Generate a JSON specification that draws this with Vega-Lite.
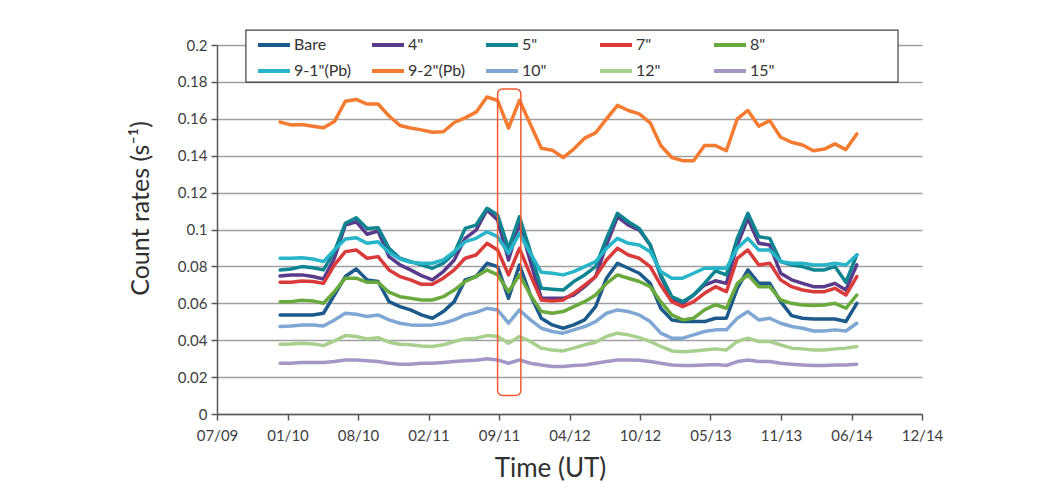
{
"$schema":"https://vega.github.io/schema/vega-lite/v6.json",
"width":705,"height":369,
"autosize":{"type":"none"},
"padding":{"left":217,"top":45,"right":130,"bottom":84},
"background":"white",
"config":{"view":{"stroke":null},"font":"Lato"},
"encoding":{
 "x":{"field":"t","type":"temporal",
  "scale":{"type":"utc","domain":[{"year":2009,"month":7,"date":6,"utc":true},{"year":2014,"month":12,"date":27,"utc":true}]},
  "axis":{"values":[{"year":2009,"month":7,"date":6,"utc":true},{"year":2010,"month":1,"date":22,"utc":true},{"year":2010,"month":8,"date":10,"utc":true},{"year":2011,"month":2,"date":26,"utc":true},{"year":2011,"month":9,"date":14,"utc":true},{"year":2012,"month":4,"date":1,"utc":true},{"year":2012,"month":10,"date":18,"utc":true},{"year":2013,"month":5,"date":6,"utc":true},{"year":2013,"month":11,"date":22,"utc":true},{"year":2014,"month":6,"date":10,"utc":true},{"year":2014,"month":12,"date":27,"utc":true}],
   "labelExpr":"utcFormat(datum.value, '%m/%y')","grid":false,"domainColor":"#595959","domainWidth":1.5,"tickColor":"#595959","tickWidth":1.5,"tickSize":6,
   "labelFont":"Lato","labelFontSize":15,"labelColor":"#404040","labelPadding":8,"labelOverlap":false,"labelFlush":false,
   "title":"Time (UT)","titleFont":"Lato","titleFontSize":26,"titleFontWeight":"normal","titleColor":"#303030","titleX":333,"titleY":54,"titleAlign":"center","titleBaseline":"middle"}},
 "y":{"field":"v","type":"quantitative","scale":{"domain":[0,0.2],"nice":false,"zero":false},
  "axis":{"values":[0,0.02,0.04,0.06,0.08,0.1,0.12,0.14,0.16,0.18,0.2],"format":".2~f","grid":true,"gridColor":"#a0a0a0","gridWidth":1.5,
   "domainColor":"#595959","domainWidth":1.5,"tickColor":"#595959","tickWidth":1.5,"tickSize":6,
   "labelFont":"Lato","labelFontSize":15,"labelColor":"#404040","labelPadding":4,
   "title":"Count rates (s⁻¹)","titleFont":"Lato","titleFontSize":25,"titleFontWeight":"normal","titleColor":"#303030","titleX":-77,"titleY":163,"titleAngle":-90,"titleAlign":"center","titleBaseline":"middle"}}
},
"layer":[
{"data":{"values":[{"t":"2009-09-26","t2":"2014-10-20","v":0.1799,"v2":0.2081}]},
 "mark":{"type":"rect","fill":"white","stroke":"#404040","strokeWidth":1.2},
 "encoding":{"x2":{"field":"t2"},"y2":{"field":"v2"}}},
{"data":{"values":[
{"t":"2010-01-01","s":"Bare","v":0.0537},{"t":"2010-02-01","s":"Bare","v":0.0537},{"t":"2010-03-04","s":"Bare","v":0.0537},{"t":"2010-04-04","s":"Bare","v":0.0537},{"t":"2010-05-04","s":"Bare","v":0.0546},{"t":"2010-06-04","s":"Bare","v":0.0645},{"t":"2010-07-05","s":"Bare","v":0.0745},{"t":"2010-08-05","s":"Bare","v":0.0786},{"t":"2010-09-05","s":"Bare","v":0.0727},{"t":"2010-10-06","s":"Bare","v":0.0718},{"t":"2010-11-06","s":"Bare","v":0.0609},{"t":"2010-12-07","s":"Bare","v":0.0582},
{"t":"2011-01-06","s":"Bare","v":0.0564},{"t":"2011-02-06","s":"Bare","v":0.0537},{"t":"2011-03-09","s":"Bare","v":0.0519},{"t":"2011-04-09","s":"Bare","v":0.0555},{"t":"2011-05-10","s":"Bare","v":0.0609},{"t":"2011-06-10","s":"Bare","v":0.0727},{"t":"2011-07-11","s":"Bare","v":0.0745},{"t":"2011-08-11","s":"Bare","v":0.0817},{"t":"2011-09-10","s":"Bare","v":0.0799},{"t":"2011-10-11","s":"Bare","v":0.0627},{"t":"2011-11-11","s":"Bare","v":0.0808},{"t":"2011-12-12","s":"Bare","v":0.0645},
{"t":"2012-01-12","s":"Bare","v":0.0519},{"t":"2012-02-12","s":"Bare","v":0.0483},{"t":"2012-03-14","s":"Bare","v":0.0465},{"t":"2012-04-13","s":"Bare","v":0.0483},{"t":"2012-05-14","s":"Bare","v":0.0510},{"t":"2012-06-14","s":"Bare","v":0.0582},{"t":"2012-07-15","s":"Bare","v":0.0736},{"t":"2012-08-15","s":"Bare","v":0.0817},{"t":"2012-09-15","s":"Bare","v":0.0790},{"t":"2012-10-16","s":"Bare","v":0.0763},{"t":"2012-11-16","s":"Bare","v":0.0708},{"t":"2012-12-16","s":"Bare","v":0.0573},
{"t":"2013-01-16","s":"Bare","v":0.0510},{"t":"2013-02-16","s":"Bare","v":0.0501},{"t":"2013-03-19","s":"Bare","v":0.0501},{"t":"2013-04-19","s":"Bare","v":0.0501},{"t":"2013-05-20","s":"Bare","v":0.0519},{"t":"2013-06-20","s":"Bare","v":0.0519},{"t":"2013-07-21","s":"Bare","v":0.0681},{"t":"2013-08-20","s":"Bare","v":0.0781},{"t":"2013-09-20","s":"Bare","v":0.0708},{"t":"2013-10-21","s":"Bare","v":0.0708},{"t":"2013-11-21","s":"Bare","v":0.0609},{"t":"2013-12-22","s":"Bare","v":0.0533},
{"t":"2014-01-22","s":"Bare","v":0.0519},{"t":"2014-02-22","s":"Bare","v":0.0515},{"t":"2014-03-25","s":"Bare","v":0.0515},{"t":"2014-04-24","s":"Bare","v":0.0515},{"t":"2014-05-25","s":"Bare","v":0.0501},{"t":"2014-06-25","s":"Bare","v":0.0600},

{"t":"2010-01-01","s":"4\"","v":0.0748},{"t":"2010-02-01","s":"4\"","v":0.0754},{"t":"2010-03-04","s":"4\"","v":0.0754},{"t":"2010-04-04","s":"4\"","v":0.0745},{"t":"2010-05-04","s":"4\"","v":0.0732},{"t":"2010-06-04","s":"4\"","v":0.0844},{"t":"2010-07-05","s":"4\"","v":0.1024},{"t":"2010-08-05","s":"4\"","v":0.1042},{"t":"2010-09-05","s":"4\"","v":0.0974},{"t":"2010-10-06","s":"4\"","v":0.0992},{"t":"2010-11-06","s":"4\"","v":0.0853},{"t":"2010-12-07","s":"4\"","v":0.0808},
{"t":"2011-01-06","s":"4\"","v":0.0781},{"t":"2011-02-06","s":"4\"","v":0.0750},{"t":"2011-03-09","s":"4\"","v":0.0727},{"t":"2011-04-09","s":"4\"","v":0.0772},{"t":"2011-05-10","s":"4\"","v":0.0835},{"t":"2011-06-10","s":"4\"","v":0.0952},{"t":"2011-07-11","s":"4\"","v":0.0997},{"t":"2011-08-11","s":"4\"","v":0.1106},{"t":"2011-09-10","s":"4\"","v":0.1051},{"t":"2011-10-11","s":"4\"","v":0.0835},{"t":"2011-11-11","s":"4\"","v":0.1033},{"t":"2011-12-12","s":"4\"","v":0.0826},
{"t":"2012-01-12","s":"4\"","v":0.0627},{"t":"2012-02-12","s":"4\"","v":0.0627},{"t":"2012-03-14","s":"4\"","v":0.0627},{"t":"2012-04-13","s":"4\"","v":0.0645},{"t":"2012-05-14","s":"4\"","v":0.0690},{"t":"2012-06-14","s":"4\"","v":0.0745},{"t":"2012-07-15","s":"4\"","v":0.0916},{"t":"2012-08-15","s":"4\"","v":0.1069},{"t":"2012-09-15","s":"4\"","v":0.1024},{"t":"2012-10-16","s":"4\"","v":0.0997},{"t":"2012-11-16","s":"4\"","v":0.0916},{"t":"2012-12-16","s":"4\"","v":0.0745},
{"t":"2013-01-16","s":"4\"","v":0.0627},{"t":"2013-02-16","s":"4\"","v":0.0600},{"t":"2013-03-19","s":"4\"","v":0.0645},{"t":"2013-04-19","s":"4\"","v":0.0699},{"t":"2013-05-20","s":"4\"","v":0.0722},{"t":"2013-06-20","s":"4\"","v":0.0708},{"t":"2013-07-21","s":"4\"","v":0.0916},{"t":"2013-08-20","s":"4\"","v":0.1060},{"t":"2013-09-20","s":"4\"","v":0.0925},{"t":"2013-10-21","s":"4\"","v":0.0916},{"t":"2013-11-21","s":"4\"","v":0.0763},{"t":"2013-12-22","s":"4\"","v":0.0727},
{"t":"2014-01-22","s":"4\"","v":0.0708},{"t":"2014-02-22","s":"4\"","v":0.0690},{"t":"2014-03-25","s":"4\"","v":0.0690},{"t":"2014-04-24","s":"4\"","v":0.0708},{"t":"2014-05-25","s":"4\"","v":0.0672},{"t":"2014-06-25","s":"4\"","v":0.0808},

{"t":"2010-01-01","s":"5\"","v":0.0781},{"t":"2010-02-01","s":"5\"","v":0.0786},{"t":"2010-03-04","s":"5\"","v":0.0799},{"t":"2010-04-04","s":"5\"","v":0.0793},{"t":"2010-05-04","s":"5\"","v":0.0781},{"t":"2010-06-04","s":"5\"","v":0.0880},{"t":"2010-07-05","s":"5\"","v":0.1033},{"t":"2010-08-05","s":"5\"","v":0.1064},{"t":"2010-09-05","s":"5\"","v":0.1006},{"t":"2010-10-06","s":"5\"","v":0.1010},{"t":"2010-11-06","s":"5\"","v":0.0898},{"t":"2010-12-07","s":"5\"","v":0.0844},
{"t":"2011-01-06","s":"5\"","v":0.0826},{"t":"2011-02-06","s":"5\"","v":0.0808},{"t":"2011-03-09","s":"5\"","v":0.0790},{"t":"2011-04-09","s":"5\"","v":0.0817},{"t":"2011-05-10","s":"5\"","v":0.0871},{"t":"2011-06-10","s":"5\"","v":0.1006},{"t":"2011-07-11","s":"5\"","v":0.1024},{"t":"2011-08-11","s":"5\"","v":0.1115},{"t":"2011-09-10","s":"5\"","v":0.1079},{"t":"2011-10-11","s":"5\"","v":0.0898},{"t":"2011-11-11","s":"5\"","v":0.1069},{"t":"2011-12-12","s":"5\"","v":0.0880},
{"t":"2012-01-12","s":"5\"","v":0.0681},{"t":"2012-02-12","s":"5\"","v":0.0676},{"t":"2012-03-14","s":"5\"","v":0.0672},{"t":"2012-04-13","s":"5\"","v":0.0718},{"t":"2012-05-14","s":"5\"","v":0.0754},{"t":"2012-06-14","s":"5\"","v":0.0799},{"t":"2012-07-15","s":"5\"","v":0.0952},{"t":"2012-08-15","s":"5\"","v":0.1088},{"t":"2012-09-15","s":"5\"","v":0.1042},{"t":"2012-10-16","s":"5\"","v":0.1006},{"t":"2012-11-16","s":"5\"","v":0.0916},{"t":"2012-12-16","s":"5\"","v":0.0754},
{"t":"2013-01-16","s":"5\"","v":0.0636},{"t":"2013-02-16","s":"5\"","v":0.0609},{"t":"2013-03-19","s":"5\"","v":0.0645},{"t":"2013-04-19","s":"5\"","v":0.0708},{"t":"2013-05-20","s":"5\"","v":0.0776},{"t":"2013-06-20","s":"5\"","v":0.0754},{"t":"2013-07-21","s":"5\"","v":0.0952},{"t":"2013-08-20","s":"5\"","v":0.1088},{"t":"2013-09-20","s":"5\"","v":0.0961},{"t":"2013-10-21","s":"5\"","v":0.0952},{"t":"2013-11-21","s":"5\"","v":0.0826},{"t":"2013-12-22","s":"5\"","v":0.0808},
{"t":"2014-01-22","s":"5\"","v":0.0799},{"t":"2014-02-22","s":"5\"","v":0.0781},{"t":"2014-03-25","s":"5\"","v":0.0781},{"t":"2014-04-24","s":"5\"","v":0.0799},{"t":"2014-05-25","s":"5\"","v":0.0714},{"t":"2014-06-25","s":"5\"","v":0.0862},

{"t":"2010-01-01","s":"7\"","v":0.0714},{"t":"2010-02-01","s":"7\"","v":0.0714},{"t":"2010-03-04","s":"7\"","v":0.0721},{"t":"2010-04-04","s":"7\"","v":0.0718},{"t":"2010-05-04","s":"7\"","v":0.0708},{"t":"2010-06-04","s":"7\"","v":0.0808},{"t":"2010-07-05","s":"7\"","v":0.0880},{"t":"2010-08-05","s":"7\"","v":0.0889},{"t":"2010-09-05","s":"7\"","v":0.0844},{"t":"2010-10-06","s":"7\"","v":0.0853},{"t":"2010-11-06","s":"7\"","v":0.0781},{"t":"2010-12-07","s":"7\"","v":0.0745},
{"t":"2011-01-06","s":"7\"","v":0.0727},{"t":"2011-02-06","s":"7\"","v":0.0703},{"t":"2011-03-09","s":"7\"","v":0.0703},{"t":"2011-04-09","s":"7\"","v":0.0736},{"t":"2011-05-10","s":"7\"","v":0.0781},{"t":"2011-06-10","s":"7\"","v":0.0844},{"t":"2011-07-11","s":"7\"","v":0.0862},{"t":"2011-08-11","s":"7\"","v":0.0925},{"t":"2011-09-10","s":"7\"","v":0.0889},{"t":"2011-10-11","s":"7\"","v":0.0754},{"t":"2011-11-11","s":"7\"","v":0.0898},{"t":"2011-12-12","s":"7\"","v":0.0754},
{"t":"2012-01-12","s":"7\"","v":0.0618},{"t":"2012-02-12","s":"7\"","v":0.0613},{"t":"2012-03-14","s":"7\"","v":0.0618},{"t":"2012-04-13","s":"7\"","v":0.0654},{"t":"2012-05-14","s":"7\"","v":0.0699},{"t":"2012-06-14","s":"7\"","v":0.0745},{"t":"2012-07-15","s":"7\"","v":0.0835},{"t":"2012-08-15","s":"7\"","v":0.0898},{"t":"2012-09-15","s":"7\"","v":0.0862},{"t":"2012-10-16","s":"7\"","v":0.0844},{"t":"2012-11-16","s":"7\"","v":0.0799},{"t":"2012-12-16","s":"7\"","v":0.0699},
{"t":"2013-01-16","s":"7\"","v":0.0609},{"t":"2013-02-16","s":"7\"","v":0.0582},{"t":"2013-03-19","s":"7\"","v":0.0609},{"t":"2013-04-19","s":"7\"","v":0.0654},{"t":"2013-05-20","s":"7\"","v":0.0690},{"t":"2013-06-20","s":"7\"","v":0.0663},{"t":"2013-07-21","s":"7\"","v":0.0844},{"t":"2013-08-20","s":"7\"","v":0.0889},{"t":"2013-09-20","s":"7\"","v":0.0808},{"t":"2013-10-21","s":"7\"","v":0.0817},{"t":"2013-11-21","s":"7\"","v":0.0727},{"t":"2013-12-22","s":"7\"","v":0.0690},
{"t":"2014-01-22","s":"7\"","v":0.0672},{"t":"2014-02-22","s":"7\"","v":0.0663},{"t":"2014-03-25","s":"7\"","v":0.0663},{"t":"2014-04-24","s":"7\"","v":0.0681},{"t":"2014-05-25","s":"7\"","v":0.0645},{"t":"2014-06-25","s":"7\"","v":0.0745},

{"t":"2010-01-01","s":"8\"","v":0.0609},{"t":"2010-02-01","s":"8\"","v":0.0609},{"t":"2010-03-04","s":"8\"","v":0.0617},{"t":"2010-04-04","s":"8\"","v":0.0613},{"t":"2010-05-04","s":"8\"","v":0.0600},{"t":"2010-06-04","s":"8\"","v":0.0663},{"t":"2010-07-05","s":"8\"","v":0.0736},{"t":"2010-08-05","s":"8\"","v":0.0736},{"t":"2010-09-05","s":"8\"","v":0.0714},{"t":"2010-10-06","s":"8\"","v":0.0714},{"t":"2010-11-06","s":"8\"","v":0.0660},{"t":"2010-12-07","s":"8\"","v":0.0636},
{"t":"2011-01-06","s":"8\"","v":0.0627},{"t":"2011-02-06","s":"8\"","v":0.0618},{"t":"2011-03-09","s":"8\"","v":0.0618},{"t":"2011-04-09","s":"8\"","v":0.0636},{"t":"2011-05-10","s":"8\"","v":0.0672},{"t":"2011-06-10","s":"8\"","v":0.0718},{"t":"2011-07-11","s":"8\"","v":0.0745},{"t":"2011-08-11","s":"8\"","v":0.0781},{"t":"2011-09-10","s":"8\"","v":0.0754},{"t":"2011-10-11","s":"8\"","v":0.0663},{"t":"2011-11-11","s":"8\"","v":0.0754},{"t":"2011-12-12","s":"8\"","v":0.0645},
{"t":"2012-01-12","s":"8\"","v":0.0555},{"t":"2012-02-12","s":"8\"","v":0.0546},{"t":"2012-03-14","s":"8\"","v":0.0555},{"t":"2012-04-13","s":"8\"","v":0.0582},{"t":"2012-05-14","s":"8\"","v":0.0609},{"t":"2012-06-14","s":"8\"","v":0.0645},{"t":"2012-07-15","s":"8\"","v":0.0708},{"t":"2012-08-15","s":"8\"","v":0.0754},{"t":"2012-09-15","s":"8\"","v":0.0736},{"t":"2012-10-16","s":"8\"","v":0.0718},{"t":"2012-11-16","s":"8\"","v":0.0690},{"t":"2012-12-16","s":"8\"","v":0.0609},
{"t":"2013-01-16","s":"8\"","v":0.0537},{"t":"2013-02-16","s":"8\"","v":0.0510},{"t":"2013-03-19","s":"8\"","v":0.0519},{"t":"2013-04-19","s":"8\"","v":0.0564},{"t":"2013-05-20","s":"8\"","v":0.0593},{"t":"2013-06-20","s":"8\"","v":0.0573},{"t":"2013-07-21","s":"8\"","v":0.0708},{"t":"2013-08-20","s":"8\"","v":0.0754},{"t":"2013-09-20","s":"8\"","v":0.0690},{"t":"2013-10-21","s":"8\"","v":0.0690},{"t":"2013-11-21","s":"8\"","v":0.0618},{"t":"2013-12-22","s":"8\"","v":0.0600},
{"t":"2014-01-22","s":"8\"","v":0.0591},{"t":"2014-02-22","s":"8\"","v":0.0588},{"t":"2014-03-25","s":"8\"","v":0.0591},{"t":"2014-04-24","s":"8\"","v":0.0600},{"t":"2014-05-25","s":"8\"","v":0.0573},{"t":"2014-06-25","s":"8\"","v":0.0645},

{"t":"2010-01-01","s":"9-1\"(Pb)","v":0.0844},{"t":"2010-02-01","s":"9-1\"(Pb)","v":0.0844},{"t":"2010-03-04","s":"9-1\"(Pb)","v":0.0847},{"t":"2010-04-04","s":"9-1\"(Pb)","v":0.0840},{"t":"2010-05-04","s":"9-1\"(Pb)","v":0.0826},{"t":"2010-06-04","s":"9-1\"(Pb)","v":0.0889},{"t":"2010-07-05","s":"9-1\"(Pb)","v":0.0948},{"t":"2010-08-05","s":"9-1\"(Pb)","v":0.0955},{"t":"2010-09-05","s":"9-1\"(Pb)","v":0.0925},{"t":"2010-10-06","s":"9-1\"(Pb)","v":0.0934},{"t":"2010-11-06","s":"9-1\"(Pb)","v":0.0876},{"t":"2010-12-07","s":"9-1\"(Pb)","v":0.0840},
{"t":"2011-01-06","s":"9-1\"(Pb)","v":0.0822},{"t":"2011-02-06","s":"9-1\"(Pb)","v":0.0817},{"t":"2011-03-09","s":"9-1\"(Pb)","v":0.0817},{"t":"2011-04-09","s":"9-1\"(Pb)","v":0.0835},{"t":"2011-05-10","s":"9-1\"(Pb)","v":0.0880},{"t":"2011-06-10","s":"9-1\"(Pb)","v":0.0934},{"t":"2011-07-11","s":"9-1\"(Pb)","v":0.0952},{"t":"2011-08-11","s":"9-1\"(Pb)","v":0.0988},{"t":"2011-09-10","s":"9-1\"(Pb)","v":0.0961},{"t":"2011-10-11","s":"9-1\"(Pb)","v":0.0871},{"t":"2011-11-11","s":"9-1\"(Pb)","v":0.0979},{"t":"2011-12-12","s":"9-1\"(Pb)","v":0.0871},
{"t":"2012-01-12","s":"9-1\"(Pb)","v":0.0768},{"t":"2012-02-12","s":"9-1\"(Pb)","v":0.0763},{"t":"2012-03-14","s":"9-1\"(Pb)","v":0.0754},{"t":"2012-04-13","s":"9-1\"(Pb)","v":0.0772},{"t":"2012-05-14","s":"9-1\"(Pb)","v":0.0799},{"t":"2012-06-14","s":"9-1\"(Pb)","v":0.0826},{"t":"2012-07-15","s":"9-1\"(Pb)","v":0.0898},{"t":"2012-08-15","s":"9-1\"(Pb)","v":0.0952},{"t":"2012-09-15","s":"9-1\"(Pb)","v":0.0925},{"t":"2012-10-16","s":"9-1\"(Pb)","v":0.0916},{"t":"2012-11-16","s":"9-1\"(Pb)","v":0.0880},{"t":"2012-12-16","s":"9-1\"(Pb)","v":0.0772},
{"t":"2013-01-16","s":"9-1\"(Pb)","v":0.0736},{"t":"2013-02-16","s":"9-1\"(Pb)","v":0.0736},{"t":"2013-03-19","s":"9-1\"(Pb)","v":0.0763},{"t":"2013-04-19","s":"9-1\"(Pb)","v":0.0790},{"t":"2013-05-20","s":"9-1\"(Pb)","v":0.0792},{"t":"2013-06-20","s":"9-1\"(Pb)","v":0.0790},{"t":"2013-07-21","s":"9-1\"(Pb)","v":0.0898},{"t":"2013-08-20","s":"9-1\"(Pb)","v":0.0952},{"t":"2013-09-20","s":"9-1\"(Pb)","v":0.0889},{"t":"2013-10-21","s":"9-1\"(Pb)","v":0.0889},{"t":"2013-11-21","s":"9-1\"(Pb)","v":0.0826},{"t":"2013-12-22","s":"9-1\"(Pb)","v":0.0817},
{"t":"2014-01-22","s":"9-1\"(Pb)","v":0.0817},{"t":"2014-02-22","s":"9-1\"(Pb)","v":0.0808},{"t":"2014-03-25","s":"9-1\"(Pb)","v":0.0808},{"t":"2014-04-24","s":"9-1\"(Pb)","v":0.0817},{"t":"2014-05-25","s":"9-1\"(Pb)","v":0.0808},{"t":"2014-06-25","s":"9-1\"(Pb)","v":0.0862},

{"t":"2010-01-01","s":"9-2\"(Pb)","v":0.1582},{"t":"2010-02-01","s":"9-2\"(Pb)","v":0.1567},{"t":"2010-03-04","s":"9-2\"(Pb)","v":0.1569},{"t":"2010-04-04","s":"9-2\"(Pb)","v":0.1560},{"t":"2010-05-04","s":"9-2\"(Pb)","v":0.1551},{"t":"2010-06-04","s":"9-2\"(Pb)","v":0.1585},{"t":"2010-07-05","s":"9-2\"(Pb)","v":0.1695},{"t":"2010-08-05","s":"9-2\"(Pb)","v":0.1705},{"t":"2010-09-05","s":"9-2\"(Pb)","v":0.1680},{"t":"2010-10-06","s":"9-2\"(Pb)","v":0.1680},{"t":"2010-11-06","s":"9-2\"(Pb)","v":0.1615},{"t":"2010-12-07","s":"9-2\"(Pb)","v":0.1564},
{"t":"2011-01-06","s":"9-2\"(Pb)","v":0.1550},{"t":"2011-02-06","s":"9-2\"(Pb)","v":0.1540},{"t":"2011-03-09","s":"9-2\"(Pb)","v":0.1527},{"t":"2011-04-09","s":"9-2\"(Pb)","v":0.1530},{"t":"2011-05-10","s":"9-2\"(Pb)","v":0.1580},{"t":"2011-06-10","s":"9-2\"(Pb)","v":0.1605},{"t":"2011-07-11","s":"9-2\"(Pb)","v":0.1636},{"t":"2011-08-11","s":"9-2\"(Pb)","v":0.1718},{"t":"2011-09-10","s":"9-2\"(Pb)","v":0.1700},{"t":"2011-10-11","s":"9-2\"(Pb)","v":0.1550},{"t":"2011-11-11","s":"9-2\"(Pb)","v":0.1700},{"t":"2011-12-12","s":"9-2\"(Pb)","v":0.1570},
{"t":"2012-01-12","s":"9-2\"(Pb)","v":0.1440},{"t":"2012-02-12","s":"9-2\"(Pb)","v":0.1430},{"t":"2012-03-14","s":"9-2\"(Pb)","v":0.1390},{"t":"2012-04-13","s":"9-2\"(Pb)","v":0.1436},{"t":"2012-05-14","s":"9-2\"(Pb)","v":0.1495},{"t":"2012-06-14","s":"9-2\"(Pb)","v":0.1524},{"t":"2012-07-15","s":"9-2\"(Pb)","v":0.1600},{"t":"2012-08-15","s":"9-2\"(Pb)","v":0.1673},{"t":"2012-09-15","s":"9-2\"(Pb)","v":0.1645},{"t":"2012-10-16","s":"9-2\"(Pb)","v":0.1627},{"t":"2012-11-16","s":"9-2\"(Pb)","v":0.1578},{"t":"2012-12-16","s":"9-2\"(Pb)","v":0.1455},
{"t":"2013-01-16","s":"9-2\"(Pb)","v":0.1390},{"t":"2013-02-16","s":"9-2\"(Pb)","v":0.1373},{"t":"2013-03-19","s":"9-2\"(Pb)","v":0.1373},{"t":"2013-04-19","s":"9-2\"(Pb)","v":0.1455},{"t":"2013-05-20","s":"9-2\"(Pb)","v":0.1455},{"t":"2013-06-20","s":"9-2\"(Pb)","v":0.1427},{"t":"2013-07-21","s":"9-2\"(Pb)","v":0.1600},{"t":"2013-08-20","s":"9-2\"(Pb)","v":0.1645},{"t":"2013-09-20","s":"9-2\"(Pb)","v":0.1560},{"t":"2013-10-21","s":"9-2\"(Pb)","v":0.1590},{"t":"2013-11-21","s":"9-2\"(Pb)","v":0.1500},{"t":"2013-12-22","s":"9-2\"(Pb)","v":0.1473},
{"t":"2014-01-22","s":"9-2\"(Pb)","v":0.1458},{"t":"2014-02-22","s":"9-2\"(Pb)","v":0.1427},{"t":"2014-03-25","s":"9-2\"(Pb)","v":0.1436},{"t":"2014-04-24","s":"9-2\"(Pb)","v":0.1464},{"t":"2014-05-25","s":"9-2\"(Pb)","v":0.1433},{"t":"2014-06-25","s":"9-2\"(Pb)","v":0.1518},

{"t":"2010-01-01","s":"10\"","v":0.0474},{"t":"2010-02-01","s":"10\"","v":0.0477},{"t":"2010-03-04","s":"10\"","v":0.0483},{"t":"2010-04-04","s":"10\"","v":0.0483},{"t":"2010-05-04","s":"10\"","v":0.0477},{"t":"2010-06-04","s":"10\"","v":0.0510},{"t":"2010-07-05","s":"10\"","v":0.0546},{"t":"2010-08-05","s":"10\"","v":0.0541},{"t":"2010-09-05","s":"10\"","v":0.0528},{"t":"2010-10-06","s":"10\"","v":0.0537},{"t":"2010-11-06","s":"10\"","v":0.0510},{"t":"2010-12-07","s":"10\"","v":0.0492},
{"t":"2011-01-06","s":"10\"","v":0.0483},{"t":"2011-02-06","s":"10\"","v":0.0481},{"t":"2011-03-09","s":"10\"","v":0.0483},{"t":"2011-04-09","s":"10\"","v":0.0492},{"t":"2011-05-10","s":"10\"","v":0.0510},{"t":"2011-06-10","s":"10\"","v":0.0537},{"t":"2011-07-11","s":"10\"","v":0.0551},{"t":"2011-08-11","s":"10\"","v":0.0573},{"t":"2011-09-10","s":"10\"","v":0.0564},{"t":"2011-10-11","s":"10\"","v":0.0492},{"t":"2011-11-11","s":"10\"","v":0.0564},{"t":"2011-12-12","s":"10\"","v":0.0510},
{"t":"2012-01-12","s":"10\"","v":0.0465},{"t":"2012-02-12","s":"10\"","v":0.0447},{"t":"2012-03-14","s":"10\"","v":0.0438},{"t":"2012-04-13","s":"10\"","v":0.0456},{"t":"2012-05-14","s":"10\"","v":0.0474},{"t":"2012-06-14","s":"10\"","v":0.0501},{"t":"2012-07-15","s":"10\"","v":0.0546},{"t":"2012-08-15","s":"10\"","v":0.0564},{"t":"2012-09-15","s":"10\"","v":0.0555},{"t":"2012-10-16","s":"10\"","v":0.0537},{"t":"2012-11-16","s":"10\"","v":0.0501},{"t":"2012-12-16","s":"10\"","v":0.0438},
{"t":"2013-01-16","s":"10\"","v":0.0411},{"t":"2013-02-16","s":"10\"","v":0.0411},{"t":"2013-03-19","s":"10\"","v":0.0429},{"t":"2013-04-19","s":"10\"","v":0.0447},{"t":"2013-05-20","s":"10\"","v":0.0456},{"t":"2013-06-20","s":"10\"","v":0.0456},{"t":"2013-07-21","s":"10\"","v":0.0519},{"t":"2013-08-20","s":"10\"","v":0.0555},{"t":"2013-09-20","s":"10\"","v":0.0510},{"t":"2013-10-21","s":"10\"","v":0.0519},{"t":"2013-11-21","s":"10\"","v":0.0492},{"t":"2013-12-22","s":"10\"","v":0.0474},
{"t":"2014-01-22","s":"10\"","v":0.0465},{"t":"2014-02-22","s":"10\"","v":0.0450},{"t":"2014-03-25","s":"10\"","v":0.0450},{"t":"2014-04-24","s":"10\"","v":0.0456},{"t":"2014-05-25","s":"10\"","v":0.0450},{"t":"2014-06-25","s":"10\"","v":0.0492},

{"t":"2010-01-01","s":"12\"","v":0.0378},{"t":"2010-02-01","s":"12\"","v":0.0380},{"t":"2010-03-04","s":"12\"","v":0.0384},{"t":"2010-04-04","s":"12\"","v":0.0380},{"t":"2010-05-04","s":"12\"","v":0.0371},{"t":"2010-06-04","s":"12\"","v":0.0396},{"t":"2010-07-05","s":"12\"","v":0.0425},{"t":"2010-08-05","s":"12\"","v":0.0420},{"t":"2010-09-05","s":"12\"","v":0.0407},{"t":"2010-10-06","s":"12\"","v":0.0414},{"t":"2010-11-06","s":"12\"","v":0.0389},{"t":"2010-12-07","s":"12\"","v":0.0378},
{"t":"2011-01-06","s":"12\"","v":0.0375},{"t":"2011-02-06","s":"12\"","v":0.0369},{"t":"2011-03-09","s":"12\"","v":0.0366},{"t":"2011-04-09","s":"12\"","v":0.0375},{"t":"2011-05-10","s":"12\"","v":0.0393},{"t":"2011-06-10","s":"12\"","v":0.0407},{"t":"2011-07-11","s":"12\"","v":0.0411},{"t":"2011-08-11","s":"12\"","v":0.0425},{"t":"2011-09-10","s":"12\"","v":0.0420},{"t":"2011-10-11","s":"12\"","v":0.0384},{"t":"2011-11-11","s":"12\"","v":0.0420},{"t":"2011-12-12","s":"12\"","v":0.0393},
{"t":"2012-01-12","s":"12\"","v":0.0357},{"t":"2012-02-12","s":"12\"","v":0.0347},{"t":"2012-03-14","s":"12\"","v":0.0342},{"t":"2012-04-13","s":"12\"","v":0.0357},{"t":"2012-05-14","s":"12\"","v":0.0375},{"t":"2012-06-14","s":"12\"","v":0.0389},{"t":"2012-07-15","s":"12\"","v":0.0420},{"t":"2012-08-15","s":"12\"","v":0.0438},{"t":"2012-09-15","s":"12\"","v":0.0429},{"t":"2012-10-16","s":"12\"","v":0.0414},{"t":"2012-11-16","s":"12\"","v":0.0393},{"t":"2012-12-16","s":"12\"","v":0.0366},
{"t":"2013-01-16","s":"12\"","v":0.0342},{"t":"2013-02-16","s":"12\"","v":0.0338},{"t":"2013-03-19","s":"12\"","v":0.0342},{"t":"2013-04-19","s":"12\"","v":0.0347},{"t":"2013-05-20","s":"12\"","v":0.0353},{"t":"2013-06-20","s":"12\"","v":0.0347},{"t":"2013-07-21","s":"12\"","v":0.0393},{"t":"2013-08-20","s":"12\"","v":0.0411},{"t":"2013-09-20","s":"12\"","v":0.0393},{"t":"2013-10-21","s":"12\"","v":0.0393},{"t":"2013-11-21","s":"12\"","v":0.0375},{"t":"2013-12-22","s":"12\"","v":0.0357},
{"t":"2014-01-22","s":"12\"","v":0.0353},{"t":"2014-02-22","s":"12\"","v":0.0347},{"t":"2014-03-25","s":"12\"","v":0.0347},{"t":"2014-04-24","s":"12\"","v":0.0353},{"t":"2014-05-25","s":"12\"","v":0.0357},{"t":"2014-06-25","s":"12\"","v":0.0366},

{"t":"2010-01-01","s":"15\"","v":0.0275},{"t":"2010-02-01","s":"15\"","v":0.0275},{"t":"2010-03-04","s":"15\"","v":0.0279},{"t":"2010-04-04","s":"15\"","v":0.0279},{"t":"2010-05-04","s":"15\"","v":0.0279},{"t":"2010-06-04","s":"15\"","v":0.0284},{"t":"2010-07-05","s":"15\"","v":0.0293},{"t":"2010-08-05","s":"15\"","v":0.0293},{"t":"2010-09-05","s":"15\"","v":0.0289},{"t":"2010-10-06","s":"15\"","v":0.0284},{"t":"2010-11-06","s":"15\"","v":0.0275},{"t":"2010-12-07","s":"15\"","v":0.0270},
{"t":"2011-01-06","s":"15\"","v":0.0270},{"t":"2011-02-06","s":"15\"","v":0.0275},{"t":"2011-03-09","s":"15\"","v":0.0275},{"t":"2011-04-09","s":"15\"","v":0.0279},{"t":"2011-05-10","s":"15\"","v":0.0284},{"t":"2011-06-10","s":"15\"","v":0.0289},{"t":"2011-07-11","s":"15\"","v":0.0291},{"t":"2011-08-11","s":"15\"","v":0.0299},{"t":"2011-09-10","s":"15\"","v":0.0293},{"t":"2011-10-11","s":"15\"","v":0.0275},{"t":"2011-11-11","s":"15\"","v":0.0293},{"t":"2011-12-12","s":"15\"","v":0.0275},
{"t":"2012-01-12","s":"15\"","v":0.0266},{"t":"2012-02-12","s":"15\"","v":0.0257},{"t":"2012-03-14","s":"15\"","v":0.0257},{"t":"2012-04-13","s":"15\"","v":0.0263},{"t":"2012-05-14","s":"15\"","v":0.0266},{"t":"2012-06-14","s":"15\"","v":0.0275},{"t":"2012-07-15","s":"15\"","v":0.0284},{"t":"2012-08-15","s":"15\"","v":0.0293},{"t":"2012-09-15","s":"15\"","v":0.0293},{"t":"2012-10-16","s":"15\"","v":0.0291},{"t":"2012-11-16","s":"15\"","v":0.0284},{"t":"2012-12-16","s":"15\"","v":0.0275},
{"t":"2013-01-16","s":"15\"","v":0.0266},{"t":"2013-02-16","s":"15\"","v":0.0263},{"t":"2013-03-19","s":"15\"","v":0.0263},{"t":"2013-04-19","s":"15\"","v":0.0266},{"t":"2013-05-20","s":"15\"","v":0.0268},{"t":"2013-06-20","s":"15\"","v":0.0263},{"t":"2013-07-21","s":"15\"","v":0.0284},{"t":"2013-08-20","s":"15\"","v":0.0293},{"t":"2013-09-20","s":"15\"","v":0.0284},{"t":"2013-10-21","s":"15\"","v":0.0284},{"t":"2013-11-21","s":"15\"","v":0.0275},{"t":"2013-12-22","s":"15\"","v":0.0270},
{"t":"2014-01-22","s":"15\"","v":0.0266},{"t":"2014-02-22","s":"15\"","v":0.0263},{"t":"2014-03-25","s":"15\"","v":0.0263},{"t":"2014-04-24","s":"15\"","v":0.0266},{"t":"2014-05-25","s":"15\"","v":0.0266},{"t":"2014-06-25","s":"15\"","v":0.0270}
]},
 "mark":{"type":"line","strokeWidth":3.5,"strokeJoin":"round","strokeCap":"round"},
 "encoding":{"color":{"field":"s","type":"nominal",
   "scale":{"domain":["Bare","4\"","5\"","7\"","8\"","9-1\"(Pb)","9-2\"(Pb)","10\"","12\"","15\""],
            "range":["#1d5a8c","#5a3a8a","#0f8592","#d93a3a","#6aaa3c","#27b5c9","#f47b2f","#7ea7d4","#a8d08d","#a597c5"]},
   "legend":{"orient":"none","legendX":39,"legendY":-18,"direction":"horizontal","columns":5,"symbolType":"stroke","symbolSize":1024,"symbolStrokeWidth":4,
     "labelFont":"Lato","labelFontSize":16,"labelColor":"#333333","labelOffset":2,"columnPadding":12,"rowPadding":-2,"padding":0,"title":null,"gridAlign":"all"}}}},
{"data":{"values":[{"t":"2011-09-10","t2":"2011-11-15","v":0.0100,"v2":0.1762}]},
 "mark":{"type":"rect","fillOpacity":0,"fill":"white","stroke":"#ee5a2e","strokeWidth":1.5,"cornerRadius":5},
 "encoding":{"x2":{"field":"t2"},"y2":{"field":"v2"}}}
]
}
